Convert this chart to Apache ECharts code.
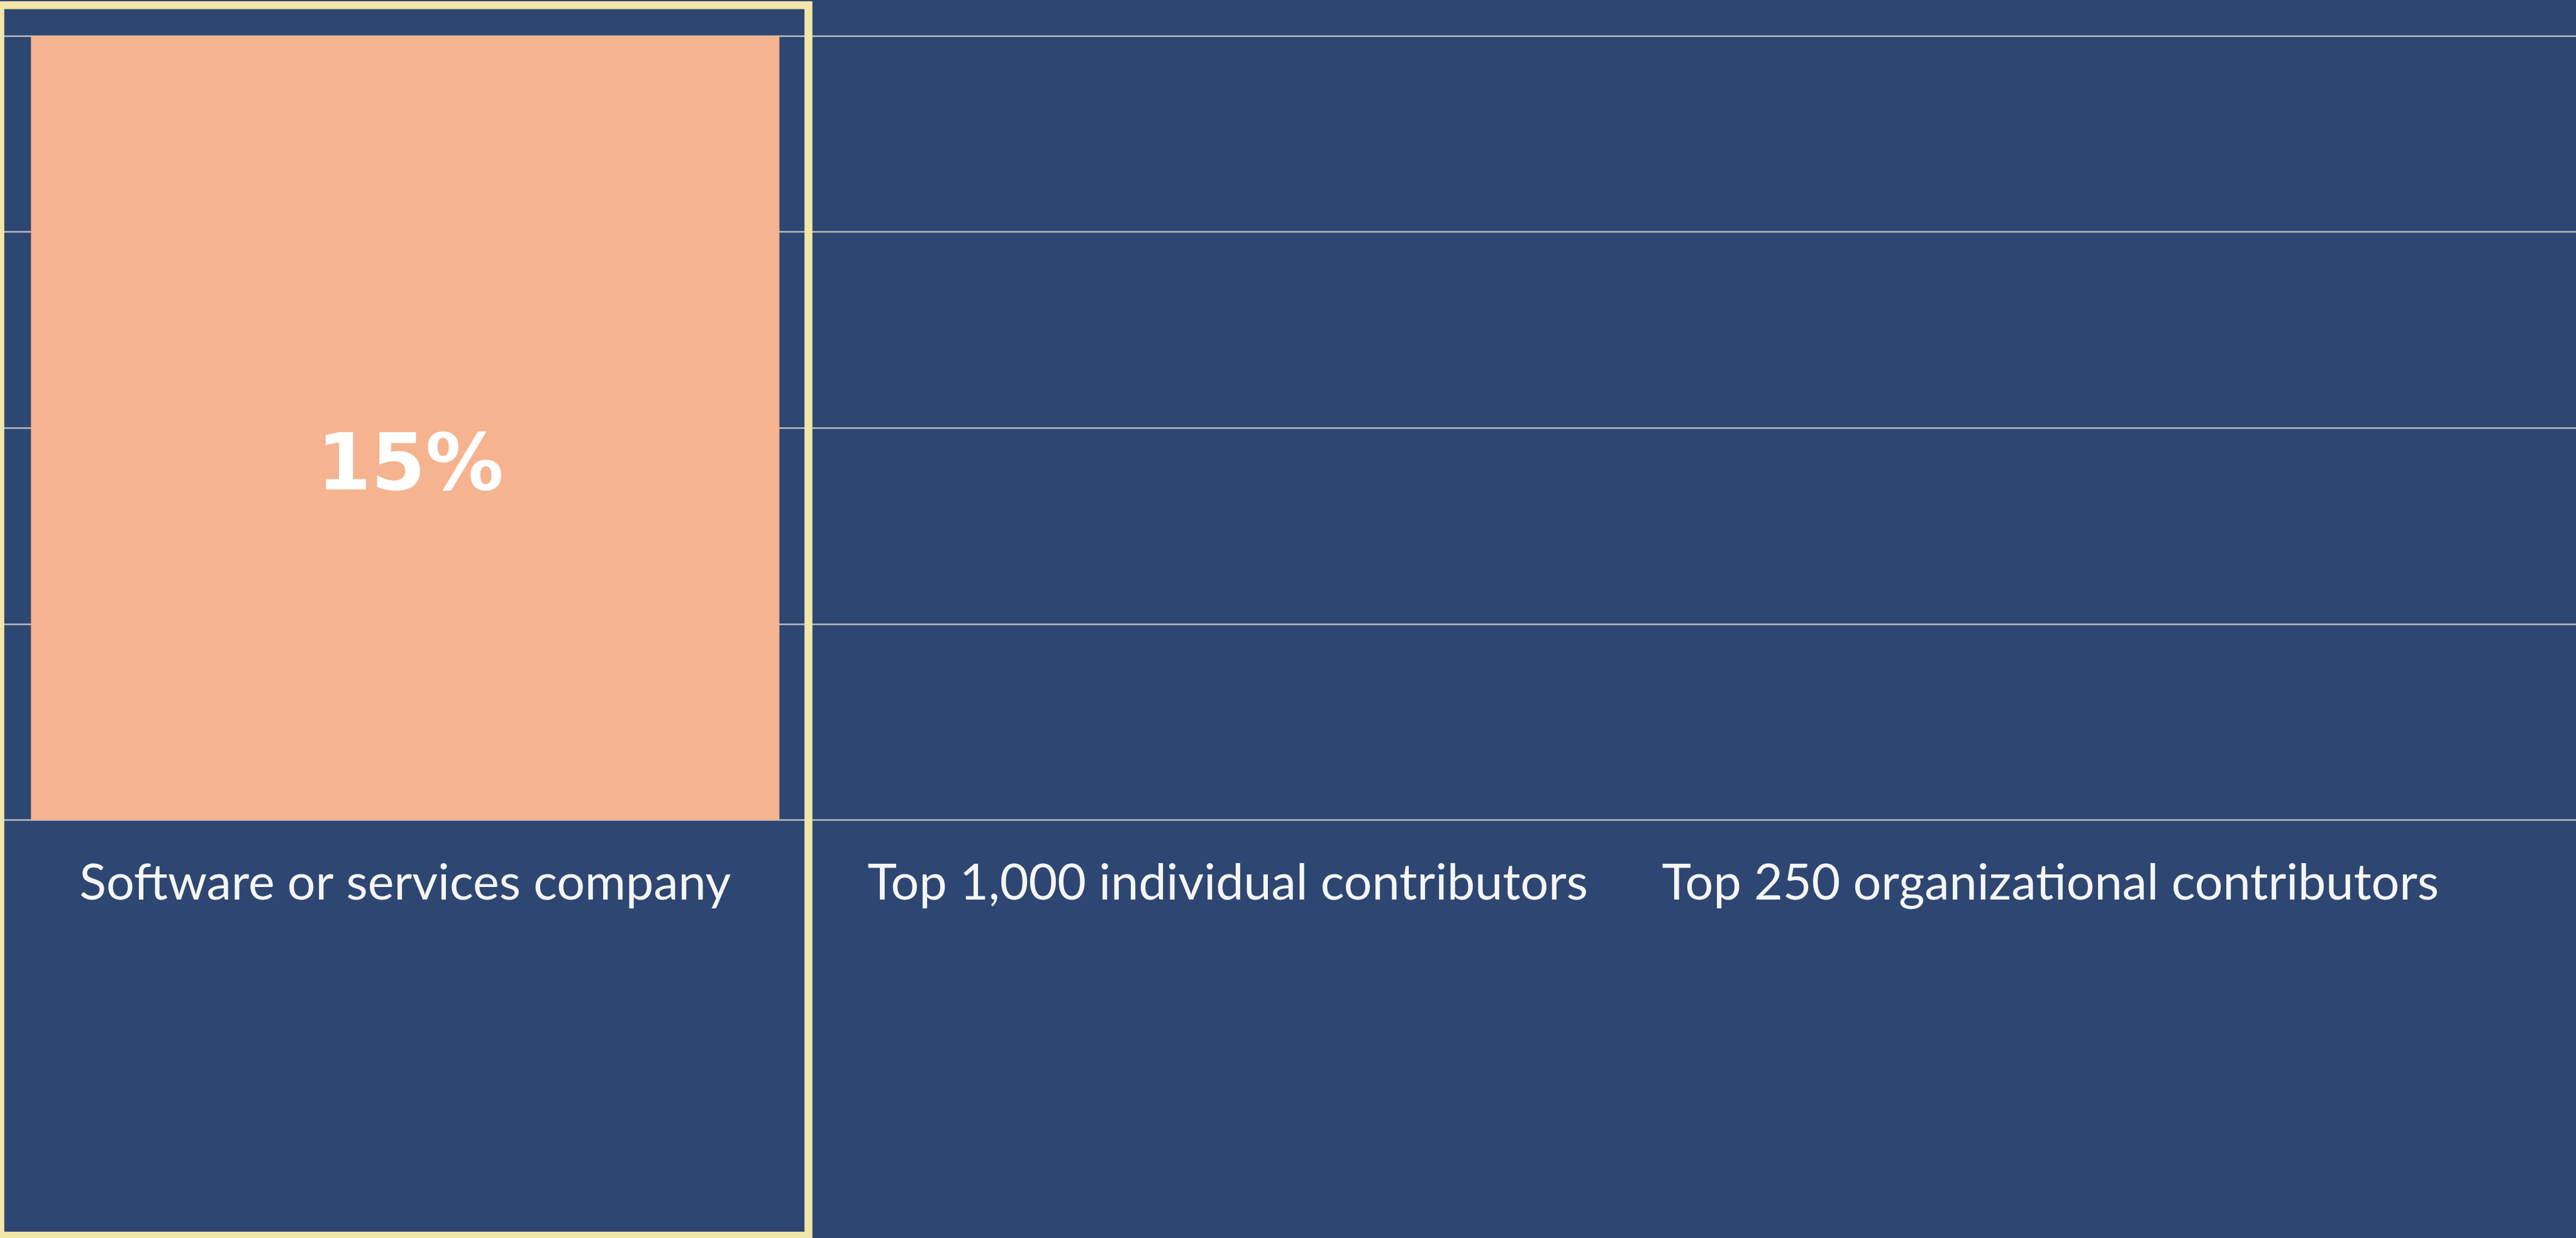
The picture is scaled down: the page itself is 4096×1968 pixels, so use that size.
<!DOCTYPE html>
<html>
<head>
<meta charset="utf-8">
<script src="https://cdn.jsdelivr.net/npm/echarts@6/dist/echarts.min.js"></script>
<style>
  html, body { margin: 0; padding: 0; background: #2e4672; }
  #main { width: 4096px; height: 1968px; }
</style>
</head>
<body>
<div id="main"></div>
<script>
// data
const categories = ['Software or services company', 'Top 1,000 individual contributors', 'Top 250 organizational contributors'];
const shares = [15, null, null];
const yMin = 0;
const yMax = 15;
const yStep = 3.75;

window.addEventListener('load', function () {
    let chart = echarts.init(document.getElementById('main'));
    let gridTop = 57, gridBottom = 664.5;
    let option = {
        backgroundColor: '#2e4672',
        animation: false,
        grid: [
            // full width grid just for the horizontal lines
            { left: 0, right: 0, top: gridTop, bottom: gridBottom, outerBoundsMode: 'none' },
            // the grid holding the bars and labels
            { left: -9.7, width: 3924, top: gridTop, bottom: gridBottom, outerBoundsMode: 'none' }
        ],
        xAxis: [
            { gridIndex: 0, type: 'category', data: categories, show: false },
            {
                gridIndex: 1,
                type: 'category',
                data: categories,
                axisLine: { show: false },
                axisTick: { show: false },
                axisLabel: {
                    interval: 0,
                    color: '#f5f5f3',
                    fontFamily: 'Lato',
                    fontSize: 79,
                    margin: 62
                }
            }
        ],
        yAxis: [
            {
                gridIndex: 0,
                type: 'value',
                min: yMin, max: yMax, interval: yStep,
                axisLabel: { show: false },
                axisLine: { show: false },
                axisTick: { show: false },
                splitLine: { lineStyle: { color: '#b9bcc2', width: 2.5 } }
            },
            {
                gridIndex: 1,
                type: 'value',
                min: yMin, max: yMax, interval: yStep,
                show: false,
                splitLine: { show: false }
            }
        ],
        series: [{
            type: 'bar',
            xAxisIndex: 1,
            yAxisIndex: 1,
            data: shares,
            barWidth: 1190,
            itemStyle: { color: '#f5b48f' },
            label: {
                show: true,
                position: 'inside',
                offset: [8, 66],
                formatter: '{c}%',
                color: '#ffffff',
                fontFamily: 'DejaVu Sans',
                fontWeight: 900,
                fontSize: 124
            }
        }],
        graphic: [{
            type: 'rect',
            z: 100,
            shape: { x: 0.5, y: 8.3, width: 1285, height: 1956 },
            style: { fill: 'none', stroke: '#f2e6a8', lineWidth: 12.6 }
        }]
    };
    chart.setOption(option);
}, false);
</script>
</body>
</html>
